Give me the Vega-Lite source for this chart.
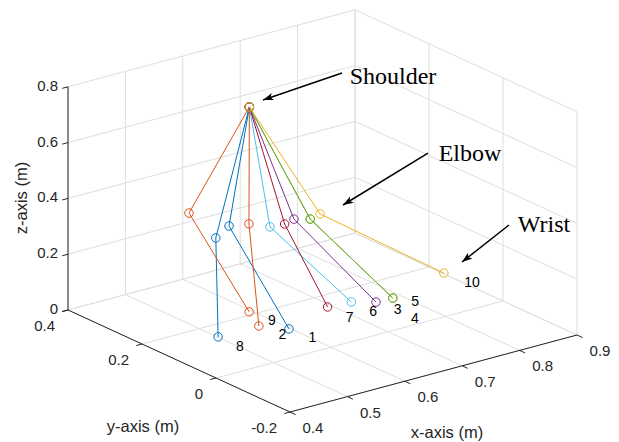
{
  "$schema": "https://vega.github.io/schema/vega-lite/v6.json",
  "width": 619,
  "height": 442,
  "autosize": {"type": "fit", "contains": "padding"},
  "padding": 0,
  "background": "white",
  "config": {"view": {"stroke": null}},
  "datasets": {
    "segments": [
      {"kind": "grid", "x1": 0.4, "y1": -0.2, "z1": 0, "x2": 0.4, "y2": 0.4, "z2": 0},
      {"kind": "grid", "x1": 0.5, "y1": -0.2, "z1": 0, "x2": 0.5, "y2": 0.4, "z2": 0},
      {"kind": "grid", "x1": 0.6, "y1": -0.2, "z1": 0, "x2": 0.6, "y2": 0.4, "z2": 0},
      {"kind": "grid", "x1": 0.7, "y1": -0.2, "z1": 0, "x2": 0.7, "y2": 0.4, "z2": 0},
      {"kind": "grid", "x1": 0.8, "y1": -0.2, "z1": 0, "x2": 0.8, "y2": 0.4, "z2": 0},
      {"kind": "grid", "x1": 0.9, "y1": -0.2, "z1": 0, "x2": 0.9, "y2": 0.4, "z2": 0},
      {"kind": "grid", "x1": 0.4, "y1": -0.2, "z1": 0, "x2": 0.9, "y2": -0.2, "z2": 0},
      {"kind": "grid", "x1": 0.4, "y1": 0, "z1": 0, "x2": 0.9, "y2": 0, "z2": 0},
      {"kind": "grid", "x1": 0.4, "y1": 0.2, "z1": 0, "x2": 0.9, "y2": 0.2, "z2": 0},
      {"kind": "grid", "x1": 0.4, "y1": 0.4, "z1": 0, "x2": 0.9, "y2": 0.4, "z2": 0},
      {"kind": "grid", "x1": 0.4, "y1": 0.4, "z1": 0, "x2": 0.4, "y2": 0.4, "z2": 0.8},
      {"kind": "grid", "x1": 0.5, "y1": 0.4, "z1": 0, "x2": 0.5, "y2": 0.4, "z2": 0.8},
      {"kind": "grid", "x1": 0.6, "y1": 0.4, "z1": 0, "x2": 0.6, "y2": 0.4, "z2": 0.8},
      {"kind": "grid", "x1": 0.7, "y1": 0.4, "z1": 0, "x2": 0.7, "y2": 0.4, "z2": 0.8},
      {"kind": "grid", "x1": 0.8, "y1": 0.4, "z1": 0, "x2": 0.8, "y2": 0.4, "z2": 0.8},
      {"kind": "grid", "x1": 0.9, "y1": 0.4, "z1": 0, "x2": 0.9, "y2": 0.4, "z2": 0.8},
      {"kind": "grid", "x1": 0.4, "y1": 0.4, "z1": 0, "x2": 0.9, "y2": 0.4, "z2": 0},
      {"kind": "grid", "x1": 0.4, "y1": 0.4, "z1": 0.2, "x2": 0.9, "y2": 0.4, "z2": 0.2},
      {"kind": "grid", "x1": 0.4, "y1": 0.4, "z1": 0.4, "x2": 0.9, "y2": 0.4, "z2": 0.4},
      {"kind": "grid", "x1": 0.4, "y1": 0.4, "z1": 0.6, "x2": 0.9, "y2": 0.4, "z2": 0.6},
      {"kind": "grid", "x1": 0.4, "y1": 0.4, "z1": 0.8, "x2": 0.9, "y2": 0.4, "z2": 0.8},
      {"kind": "grid", "x1": 0.9, "y1": -0.2, "z1": 0, "x2": 0.9, "y2": -0.2, "z2": 0.8},
      {"kind": "grid", "x1": 0.9, "y1": 0, "z1": 0, "x2": 0.9, "y2": 0, "z2": 0.8},
      {"kind": "grid", "x1": 0.9, "y1": 0.2, "z1": 0, "x2": 0.9, "y2": 0.2, "z2": 0.8},
      {"kind": "grid", "x1": 0.9, "y1": 0.4, "z1": 0, "x2": 0.9, "y2": 0.4, "z2": 0.8},
      {"kind": "grid", "x1": 0.9, "y1": -0.2, "z1": 0, "x2": 0.9, "y2": 0.4, "z2": 0},
      {"kind": "grid", "x1": 0.9, "y1": -0.2, "z1": 0.2, "x2": 0.9, "y2": 0.4, "z2": 0.2},
      {"kind": "grid", "x1": 0.9, "y1": -0.2, "z1": 0.4, "x2": 0.9, "y2": 0.4, "z2": 0.4},
      {"kind": "grid", "x1": 0.9, "y1": -0.2, "z1": 0.6, "x2": 0.9, "y2": 0.4, "z2": 0.6},
      {"kind": "grid", "x1": 0.9, "y1": -0.2, "z1": 0.8, "x2": 0.9, "y2": 0.4, "z2": 0.8},
      {"kind": "axis", "x1": 0.4, "y1": -0.2, "z1": 0, "x2": 0.9, "y2": -0.2, "z2": 0},
      {"kind": "axis", "x1": 0.4, "y1": -0.2, "z1": 0, "x2": 0.4, "y2": 0.4, "z2": 0},
      {"kind": "axis", "x1": 0.4, "y1": 0.4, "z1": 0, "x2": 0.4, "y2": 0.4, "z2": 0.8}
    ],
    "ticks": [
      {"axis": "x", "label": "0.4", "x1": 0.4, "y1": -0.2, "z1": 0, "x2": 0.4, "y2": -0.215, "z2": 0},
      {"axis": "x", "label": "0.5", "x1": 0.5, "y1": -0.2, "z1": 0, "x2": 0.5, "y2": -0.215, "z2": 0},
      {"axis": "x", "label": "0.6", "x1": 0.6, "y1": -0.2, "z1": 0, "x2": 0.6, "y2": -0.215, "z2": 0},
      {"axis": "x", "label": "0.7", "x1": 0.7, "y1": -0.2, "z1": 0, "x2": 0.7, "y2": -0.215, "z2": 0},
      {"axis": "x", "label": "0.8", "x1": 0.8, "y1": -0.2, "z1": 0, "x2": 0.8, "y2": -0.215, "z2": 0},
      {"axis": "x", "label": "0.9", "x1": 0.9, "y1": -0.2, "z1": 0, "x2": 0.9, "y2": -0.215, "z2": 0},
      {"axis": "y", "label": "-0.2", "x1": 0.4, "y1": -0.2, "z1": 0, "x2": 0.39, "y2": -0.2, "z2": 0},
      {"axis": "y", "label": "0", "x1": 0.4, "y1": 0, "z1": 0, "x2": 0.39, "y2": 0, "z2": 0},
      {"axis": "y", "label": "0.2", "x1": 0.4, "y1": 0.2, "z1": 0, "x2": 0.39, "y2": 0.2, "z2": 0},
      {"axis": "y", "label": "0.4", "x1": 0.4, "y1": 0.4, "z1": 0, "x2": 0.39, "y2": 0.4, "z2": 0},
      {"axis": "z", "label": "0", "x1": 0.4, "y1": 0.4, "z1": 0, "x2": 0.39, "y2": 0.4, "z2": 0},
      {"axis": "z", "label": "0.2", "x1": 0.4, "y1": 0.4, "z1": 0.2, "x2": 0.39, "y2": 0.4, "z2": 0.2},
      {"axis": "z", "label": "0.4", "x1": 0.4, "y1": 0.4, "z1": 0.4, "x2": 0.39, "y2": 0.4, "z2": 0.4},
      {"axis": "z", "label": "0.6", "x1": 0.4, "y1": 0.4, "z1": 0.6, "x2": 0.39, "y2": 0.4, "z2": 0.6},
      {"axis": "z", "label": "0.8", "x1": 0.4, "y1": 0.4, "z1": 0.8, "x2": 0.39, "y2": 0.4, "z2": 0.8}
    ],
    "arm": [
      {"trial": 1, "joint": "shoulder", "seq": 0, "x": 0.618, "y": 0.248, "z": 0.7},
      {"trial": 1, "joint": "elbow", "seq": 1, "x": 0.511, "y": 0.137, "z": 0.4},
      {"trial": 1, "joint": "wrist", "seq": 2, "x": 0.531, "y": 0.006, "z": 0.1},
      {"trial": 2, "joint": "shoulder", "seq": 0, "x": 0.618, "y": 0.248, "z": 0.7},
      {"trial": 2, "joint": "elbow", "seq": 1, "x": 0.538, "y": 0.125, "z": 0.4},
      {"trial": 2, "joint": "wrist", "seq": 2, "x": 0.505, "y": 0.047, "z": 0.1},
      {"trial": 3, "joint": "shoulder", "seq": 0, "x": 0.618, "y": 0.248, "z": 0.7},
      {"trial": 3, "joint": "elbow", "seq": 1, "x": 0.599, "y": 0.098, "z": 0.4},
      {"trial": 3, "joint": "wrist", "seq": 2, "x": 0.691, "y": 0.019, "z": 0.1},
      {"trial": 4, "joint": "shoulder", "seq": 0, "x": 0.618, "y": 0.248, "z": 0.7},
      {"trial": 4, "joint": "elbow", "seq": 1, "x": 0.617, "y": 0.082, "z": 0.4},
      {"trial": 4, "joint": "wrist", "seq": 2, "x": 0.719, "y": 0.017, "z": 0.1},
      {"trial": 5, "joint": "shoulder", "seq": 0, "x": 0.618, "y": 0.248, "z": 0.7},
      {"trial": 5, "joint": "elbow", "seq": 1, "x": 0.617, "y": 0.082, "z": 0.4},
      {"trial": 5, "joint": "wrist", "seq": 2, "x": 0.719, "y": 0.017, "z": 0.1},
      {"trial": 6, "joint": "shoulder", "seq": 0, "x": 0.618, "y": 0.248, "z": 0.7},
      {"trial": 6, "joint": "elbow", "seq": 1, "x": 0.554, "y": 0.093, "z": 0.4},
      {"trial": 6, "joint": "wrist", "seq": 2, "x": 0.664, "y": 0.044, "z": 0.1},
      {"trial": 7, "joint": "shoulder", "seq": 0, "x": 0.618, "y": 0.248, "z": 0.7},
      {"trial": 7, "joint": "elbow", "seq": 1, "x": 0.577, "y": 0.089, "z": 0.4},
      {"trial": 7, "joint": "wrist", "seq": 2, "x": 0.626, "y": 0.049, "z": 0.1},
      {"trial": 8, "joint": "shoulder", "seq": 0, "x": 0.618, "y": 0.248, "z": 0.7},
      {"trial": 8, "joint": "elbow", "seq": 1, "x": 0.468, "y": 0.106, "z": 0.4},
      {"trial": 8, "joint": "wrist", "seq": 2, "x": 0.434, "y": 0.047, "z": 0.1},
      {"trial": 9, "joint": "shoulder", "seq": 0, "x": 0.618, "y": 0.248, "z": 0.7},
      {"trial": 9, "joint": "elbow", "seq": 1, "x": 0.498, "y": 0.225, "z": 0.4},
      {"trial": 9, "joint": "wrist", "seq": 2, "x": 0.528, "y": 0.109, "z": 0.1},
      {"trial": 10, "joint": "shoulder", "seq": 0, "x": 0.618, "y": 0.248, "z": 0.7},
      {"trial": 10, "joint": "elbow", "seq": 1, "x": 0.640, "y": 0.091, "z": 0.4},
      {"trial": 10, "joint": "wrist", "seq": 2, "x": 0.835, "y": 0.059, "z": 0.1}
    ],
    "trialLabels": [
      {"trial": 1, "text": "1", "x": 0.535, "y": -0.051, "z": 0.1},
      {"trial": 2, "text": "2", "x": 0.509, "y": -0.010, "z": 0.1},
      {"trial": 3, "text": "3", "x": 0.696, "y": -0.032, "z": 0.1},
      {"trial": 4, "text": "4", "x": 0.693, "y": -0.083, "z": 0.1},
      {"trial": 5, "text": "5", "x": 0.734, "y": -0.020, "z": 0.1},
      {"trial": 6, "text": "6", "x": 0.664, "y": -0.015, "z": 0.1},
      {"trial": 7, "text": "7", "x": 0.624, "y": -0.014, "z": 0.1},
      {"trial": 8, "text": "8", "x": 0.434, "y": -0.012, "z": 0.1},
      {"trial": 9, "text": "9", "x": 0.531, "y": 0.052, "z": 0.1},
      {"trial": 10, "text": "10", "x": 0.842, "y": -0.006, "z": 0.1}
    ],
    "notes": [
      {"role": "callout", "text": "Shoulder", "fx": 0.6349, "fy": 0.8258},
      {"role": "callout", "text": "Elbow", "fx": 0.7593, "fy": 0.6516},
      {"role": "callout", "text": "Wrist", "fx": 0.8788, "fy": 0.4910},
      {"role": "title", "text": "x-axis (m)", "fx": 0.7221, "fy": 0.0204},
      {"role": "title", "text": "y-axis (m)", "fx": 0.2310, "fy": 0.0339},
      {"role": "ztitle", "text": "z-axis (m)", "fx": 0.0355, "fy": 0.5520}
    ],
    "arrows": [
      {"target": "Shoulder", "fx1": 0.5525, "fy1": 0.8348, "fx2": 0.4249, "fy2": 0.7738},
      {"target": "Elbow", "fx1": 0.6914, "fy1": 0.6538, "fx2": 0.5541, "fy2": 0.5362},
      {"target": "Wrist", "fx1": 0.8223, "fy1": 0.4910, "fx2": 0.7464, "fy2": 0.4072}
    ]
  },
  "layer": [
    {
      "data": {"name": "segments"},
      "transform": [
        {"filter": "datum.kind == 'grid'"},
        {"calculate": "68 + 574*(datum.x1-0.4) - 370*(datum.y1-0.4)", "as": "sx1"},
        {"calculate": "310 - 154*(datum.x1-0.4) - 170*(datum.y1-0.4) - 279*datum.z1", "as": "sy1"},
        {"calculate": "68 + 574*(datum.x2-0.4) - 370*(datum.y2-0.4)", "as": "sx2"},
        {"calculate": "310 - 154*(datum.x2-0.4) - 170*(datum.y2-0.4) - 279*datum.z2", "as": "sy2"}
      ],
      "mark": {"type": "rule", "color": "#dedede", "strokeWidth": 1},
      "encoding": {
        "x": {"field": "sx1", "type": "quantitative", "scale": {"domain": [0, 619]}, "axis": null},
        "y": {"field": "sy1", "type": "quantitative", "scale": {"domain": [0, 442], "reverse": true}, "axis": null},
        "x2": {"field": "sx2"},
        "y2": {"field": "sy2"}
      }
    },
    {
      "data": {"name": "segments"},
      "transform": [
        {"filter": "datum.kind == 'axis'"},
        {"calculate": "68 + 574*(datum.x1-0.4) - 370*(datum.y1-0.4)", "as": "sx1"},
        {"calculate": "310 - 154*(datum.x1-0.4) - 170*(datum.y1-0.4) - 279*datum.z1", "as": "sy1"},
        {"calculate": "68 + 574*(datum.x2-0.4) - 370*(datum.y2-0.4)", "as": "sx2"},
        {"calculate": "310 - 154*(datum.x2-0.4) - 170*(datum.y2-0.4) - 279*datum.z2", "as": "sy2"}
      ],
      "mark": {"type": "rule", "color": "#262626", "strokeWidth": 1},
      "encoding": {
        "x": {"field": "sx1", "type": "quantitative", "scale": {"domain": [0, 619]}, "axis": null},
        "y": {"field": "sy1", "type": "quantitative", "scale": {"domain": [0, 442], "reverse": true}, "axis": null},
        "x2": {"field": "sx2"},
        "y2": {"field": "sy2"}
      }
    },
    {
      "data": {"name": "ticks"},
      "transform": [
        {"calculate": "68 + 574*(datum.x1-0.4) - 370*(datum.y1-0.4)", "as": "sx1"},
        {"calculate": "310 - 154*(datum.x1-0.4) - 170*(datum.y1-0.4) - 279*datum.z1", "as": "sy1"},
        {"calculate": "68 + 574*(datum.x2-0.4) - 370*(datum.y2-0.4)", "as": "sx2"},
        {"calculate": "310 - 154*(datum.x2-0.4) - 170*(datum.y2-0.4) - 279*datum.z2", "as": "sy2"}
      ],
      "mark": {"type": "rule", "color": "#262626", "strokeWidth": 1},
      "encoding": {
        "x": {"field": "sx1", "type": "quantitative", "scale": {"domain": [0, 619]}, "axis": null},
        "y": {"field": "sy1", "type": "quantitative", "scale": {"domain": [0, 442], "reverse": true}, "axis": null},
        "x2": {"field": "sx2"},
        "y2": {"field": "sy2"}
      }
    },
    {
      "data": {"name": "ticks"},
      "transform": [
        {"filter": "datum.axis == 'x'"},
        {"calculate": "68 + 574*(datum.x1-0.4) - 370*(datum.y1-0.4)", "as": "sx1"},
        {"calculate": "310 - 154*(datum.x1-0.4) - 170*(datum.y1-0.4) - 279*datum.z1", "as": "sy1"}
      ],
      "mark": {"type": "text", "font": "Liberation Sans", "fontSize": 15, "color": "#262626", "align": "center", "baseline": "middle", "dx": 23, "dy": 16},
      "encoding": {
        "x": {"field": "sx1", "type": "quantitative", "scale": {"domain": [0, 619]}, "axis": null},
        "y": {"field": "sy1", "type": "quantitative", "scale": {"domain": [0, 442], "reverse": true}, "axis": null},
        "text": {"field": "label"}
      }
    },
    {
      "data": {"name": "ticks"},
      "transform": [
        {"filter": "datum.axis == 'y'"},
        {"calculate": "68 + 574*(datum.x1-0.4) - 370*(datum.y1-0.4)", "as": "sx1"},
        {"calculate": "310 - 154*(datum.x1-0.4) - 170*(datum.y1-0.4) - 279*datum.z1", "as": "sy1"}
      ],
      "mark": {"type": "text", "font": "Liberation Sans", "fontSize": 15, "color": "#262626", "align": "right", "baseline": "middle", "dx": -13, "dy": 16},
      "encoding": {
        "x": {"field": "sx1", "type": "quantitative", "scale": {"domain": [0, 619]}, "axis": null},
        "y": {"field": "sy1", "type": "quantitative", "scale": {"domain": [0, 442], "reverse": true}, "axis": null},
        "text": {"field": "label"}
      }
    },
    {
      "data": {"name": "ticks"},
      "transform": [
        {"filter": "datum.axis == 'z'"},
        {"calculate": "68 + 574*(datum.x1-0.4) - 370*(datum.y1-0.4)", "as": "sx1"},
        {"calculate": "310 - 154*(datum.x1-0.4) - 170*(datum.y1-0.4) - 279*datum.z1", "as": "sy1"}
      ],
      "mark": {"type": "text", "font": "Liberation Sans", "fontSize": 15, "color": "#262626", "align": "right", "baseline": "middle", "dx": -10, "dy": -1},
      "encoding": {
        "x": {"field": "sx1", "type": "quantitative", "scale": {"domain": [0, 619]}, "axis": null},
        "y": {"field": "sy1", "type": "quantitative", "scale": {"domain": [0, 442], "reverse": true}, "axis": null},
        "text": {"field": "label"}
      }
    },
    {
      "data": {"name": "notes"},
      "transform": [
        {"filter": "datum.role == 'title'"},
        {"calculate": "datum.fx * 619", "as": "sx"},
        {"calculate": "(1 - datum.fy) * 442", "as": "sy"}
      ],
      "mark": {"type": "text", "font": "Liberation Sans", "fontSize": 16.5, "color": "#262626", "align": "center", "baseline": "middle"},
      "encoding": {
        "x": {"field": "sx", "type": "quantitative", "scale": {"domain": [0, 619]}, "axis": null},
        "y": {"field": "sy", "type": "quantitative", "scale": {"domain": [0, 442], "reverse": true}, "axis": null},
        "text": {"field": "text"}
      }
    },
    {
      "data": {"name": "notes"},
      "transform": [
        {"filter": "datum.role == 'ztitle'"},
        {"calculate": "datum.fx * 619", "as": "sx"},
        {"calculate": "(1 - datum.fy) * 442", "as": "sy"}
      ],
      "mark": {"type": "text", "font": "Liberation Sans", "fontSize": 16.5, "color": "#262626", "align": "center", "baseline": "middle", "angle": 270},
      "encoding": {
        "x": {"field": "sx", "type": "quantitative", "scale": {"domain": [0, 619]}, "axis": null},
        "y": {"field": "sy", "type": "quantitative", "scale": {"domain": [0, 442], "reverse": true}, "axis": null},
        "text": {"field": "text"}
      }
    },
    {
      "data": {"name": "arm"},
      "transform": [
        {"calculate": "68 + 574*(datum.x-0.4) - 370*(datum.y-0.4)", "as": "sx"},
        {"calculate": "310 - 154*(datum.x-0.4) - 170*(datum.y-0.4) - 279*datum.z", "as": "sy"}
      ],
      "mark": {"type": "line", "strokeWidth": 1},
      "encoding": {
        "x": {"field": "sx", "type": "quantitative", "scale": {"domain": [0, 619]}, "axis": null},
        "y": {"field": "sy", "type": "quantitative", "scale": {"domain": [0, 442], "reverse": true}, "axis": null},
        "color": {"field": "trial", "type": "ordinal", "legend": null, "scale": {"domain": [1, 2, 3, 4, 5, 6, 7, 8, 9, 10], "range": ["#0072BD", "#D95319", "#7E2F8E", "#77AC30", "#77AC30", "#4DBEEE", "#A2142F", "#0072BD", "#D95319", "#EDB120"]}},
        "order": {"field": "seq", "type": "quantitative"}
      }
    },
    {
      "data": {"name": "arm"},
      "transform": [
        {"calculate": "68 + 574*(datum.x-0.4) - 370*(datum.y-0.4)", "as": "sx"},
        {"calculate": "310 - 154*(datum.x-0.4) - 170*(datum.y-0.4) - 279*datum.z", "as": "sy"}
      ],
      "mark": {"type": "point", "shape": "circle", "filled": false, "size": 72, "strokeWidth": 1, "opacity": 1},
      "encoding": {
        "x": {"field": "sx", "type": "quantitative", "scale": {"domain": [0, 619]}, "axis": null},
        "y": {"field": "sy", "type": "quantitative", "scale": {"domain": [0, 442], "reverse": true}, "axis": null},
        "color": {"field": "trial", "type": "ordinal", "legend": null, "scale": {"domain": [1, 2, 3, 4, 5, 6, 7, 8, 9, 10], "range": ["#0072BD", "#D95319", "#7E2F8E", "#77AC30", "#77AC30", "#4DBEEE", "#A2142F", "#0072BD", "#D95319", "#EDB120"]}}
      }
    },
    {
      "data": {"name": "trialLabels"},
      "transform": [
        {"calculate": "68 + 574*(datum.x-0.4) - 370*(datum.y-0.4)", "as": "sx"},
        {"calculate": "310 - 154*(datum.x-0.4) - 170*(datum.y-0.4) - 279*datum.z", "as": "sy"}
      ],
      "mark": {"type": "text", "font": "Liberation Sans", "fontSize": 14, "color": "#000000", "align": "center", "baseline": "middle"},
      "encoding": {
        "x": {"field": "sx", "type": "quantitative", "scale": {"domain": [0, 619]}, "axis": null},
        "y": {"field": "sy", "type": "quantitative", "scale": {"domain": [0, 442], "reverse": true}, "axis": null},
        "text": {"field": "text"}
      }
    },
    {
      "data": {"name": "notes"},
      "transform": [
        {"filter": "datum.role == 'callout'"},
        {"calculate": "datum.fx * 619", "as": "sx"},
        {"calculate": "(1 - datum.fy) * 442", "as": "sy"}
      ],
      "mark": {"type": "text", "font": "Liberation Serif", "fontSize": 24, "color": "#000000", "align": "center", "baseline": "middle"},
      "encoding": {
        "x": {"field": "sx", "type": "quantitative", "scale": {"domain": [0, 619]}, "axis": null},
        "y": {"field": "sy", "type": "quantitative", "scale": {"domain": [0, 442], "reverse": true}, "axis": null},
        "text": {"field": "text"}
      }
    },
    {
      "data": {"name": "arrows"},
      "transform": [
        {"calculate": "datum.fx1 * 619", "as": "sx1"},
        {"calculate": "(1 - datum.fy1) * 442", "as": "sy1"},
        {"calculate": "datum.fx2 * 619", "as": "sx2"},
        {"calculate": "(1 - datum.fy2) * 442", "as": "sy2"}
      ],
      "mark": {"type": "rule", "color": "#000000", "strokeWidth": 1.5},
      "encoding": {
        "x": {"field": "sx1", "type": "quantitative", "scale": {"domain": [0, 619]}, "axis": null},
        "y": {"field": "sy1", "type": "quantitative", "scale": {"domain": [0, 442], "reverse": true}, "axis": null},
        "x2": {"field": "sx2"},
        "y2": {"field": "sy2"}
      }
    },
    {
      "data": {"name": "arrows"},
      "transform": [
        {"calculate": "datum.fx1 * 619", "as": "sx1"},
        {"calculate": "(1 - datum.fy1) * 442", "as": "sy1"},
        {"calculate": "datum.fx2 * 619", "as": "sx2"},
        {"calculate": "(1 - datum.fy2) * 442", "as": "sy2"},
        {"calculate": "atan2(datum.sx2 - datum.sx1, -(datum.sy2 - datum.sy1)) * 180 / PI", "as": "ang"}
      ],
      "mark": {"type": "point", "shape": "M0,0L-0.35,1L0,0.75L0.35,1Z", "filled": true, "size": 441, "color": "#000000", "opacity": 1, "strokeWidth": 0},
      "encoding": {
        "x": {"field": "sx2", "type": "quantitative", "scale": {"domain": [0, 619]}, "axis": null},
        "y": {"field": "sy2", "type": "quantitative", "scale": {"domain": [0, 442], "reverse": true}, "axis": null},
        "angle": {"field": "ang", "type": "quantitative", "scale": null}
      }
    }
  ]
}
